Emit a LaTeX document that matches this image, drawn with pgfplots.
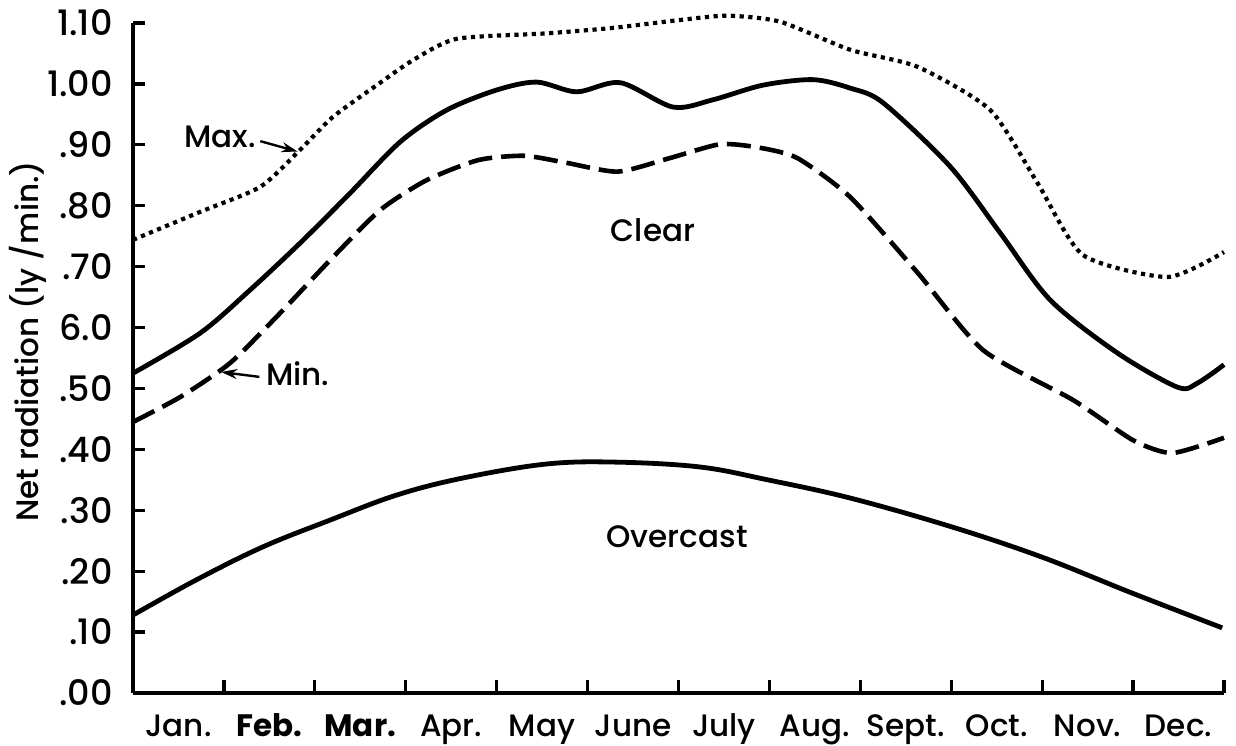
\documentclass[border=0pt]{standalone}
\usepackage{fontspec}
\setmainfont{Poppins}[UprightFont={* Medium}, BoldFont={* Bold}]
\usepackage{pgfplots}
\pgfplotsset{compat=1.18}
\usetikzlibrary{arrows.meta}

\begin{document}
\begin{tikzpicture}
\fontsize{15.5}{18}\selectfont
\useasboundingbox (-66.5pt,-26pt) rectangle (551.5pt,346.5pt);
\begin{axis}[
    scale only axis,
    width=545.5pt, height=335pt,
    at={(0,0)}, anchor=south west,
    xmin=0, xmax=12, ymin=0, ymax=1.1,
    axis x line=bottom, axis y line=left,
    axis line style={-, line width=1.9pt},
    tick align=inside,
    tick style={line width=1.6pt, black},
    major tick length=6pt,
    minor tick length=6.5pt,
    xtick={0.5,1.5,2.5,3.5,4.5,5.5,6.5,7.5,8.5,9.5,10.5,11.5},
    xticklabels={Jan., \textbf{Feb.}, \textbf{Mar.}, Apr., May, June, July, Aug., Sept., Oct., Nov., Dec.},
    minor xtick={0,1,2,3,4,5,6,7,8,9,10,11,12},
    major x tick style={draw=none},
    xticklabel style={anchor=base, inner sep=0pt, yshift=-21.5pt},
    ytick={0,0.1,0.2,0.3,0.4,0.5,0.6,0.7,0.8,0.9,1.0,1.1},
    yticklabels={.00,.10,.20,.30,.40,.50,6.0,.70,.80,.90,1.00,1.10},
    yticklabel style={anchor=east, inner sep=0pt, xshift=-10pt, font=\fontsize{17.5}{20}\selectfont},
    ylabel={Net radiation (ly /min.)},
    ylabel style={at={(axis description cs:-0.0962,0.525)}, anchor=center},
    clip=false,
]

% Max. (dotted)
\addplot[black, line width=2.1pt, dash pattern=on 2.1pt off 2.25pt, smooth, tension=0.4] coordinates {
(0,0.744) (0.74,0.790) (1.40,0.831) (1.84,0.892) (2.20,0.946) (2.72,1.002)
(3.08,1.039) (3.56,1.074) (4.55,1.083) (5.28,1.092) (6.02,1.105) (6.54,1.112)
(7.12,1.102) (7.89,1.056) (8.63,1.028) (9.43,0.957) (9.95,0.837) (10.45,0.719)
(11.38,0.683) (12.0,0.724)};

% Clear (solid)
\addplot[black, line width=2.4pt, smooth, tension=0.5] coordinates {
(0,0.525) (0.74,0.591) (1.29,0.662) (1.84,0.739) (2.39,0.821) (2.94,0.905)
(3.45,0.957) (4.00,0.990) (4.44,1.003) (4.88,0.987) (5.36,1.002) (5.94,0.962)
(6.38,0.974) (6.93,0.998) (7.48,1.007) (7.89,0.993) (8.25,0.969) (8.99,0.864)
(9.54,0.755) (10.09,0.645) (10.83,0.558) (11.49,0.502) (11.71,0.509) (12.0,0.539)};

% Min. (dashed)
\addplot[black, line width=2.3pt, dash pattern=on 12pt off 4.5pt, smooth, tension=0.4] coordinates {
(0,0.445) (0.52,0.486) (1.07,0.542) (1.62,0.624) (2.17,0.711) (2.72,0.793)
(3.23,0.842) (3.80,0.875) (4.30,0.882) (4.75,0.871) (5.33,0.856) (5.90,0.878)
(6.46,0.901) (6.90,0.895) (7.31,0.878) (7.89,0.814) (8.63,0.690) (9.35,0.563)
(10.34,0.481) (11.00,0.415) (11.43,0.394) (12.0,0.419)};

% Overcast (solid)
\addplot[black, line width=2.4pt, smooth, tension=0.6] coordinates {
(0,0.128) (0.70,0.186) (1.43,0.240) (2.17,0.284) (2.90,0.325) (3.63,0.353)
(4.55,0.376) (5.33,0.379) (6.24,0.371) (6.98,0.350) (7.89,0.320) (9.00,0.273)
(10.00,0.223) (10.99,0.164) (11.98,0.107)};

\node at (axis cs:0.96,0.913) {Max.};
\draw[line width=1.2pt, -{Stealth[length=8pt,width=5pt]}] (axis cs:1.40,0.906) -- (axis cs:1.81,0.889);
\node at (axis cs:1.81,0.525) {Min.};
\draw[line width=1.2pt, -{Stealth[length=8pt,width=5pt]}] (axis cs:1.39,0.519) -- (axis cs:0.97,0.527);
\node at (axis cs:5.72,0.760) {Clear};
\node at (axis cs:5.985,0.256) {Overcast};
\end{axis}
\end{tikzpicture}
\end{document}
